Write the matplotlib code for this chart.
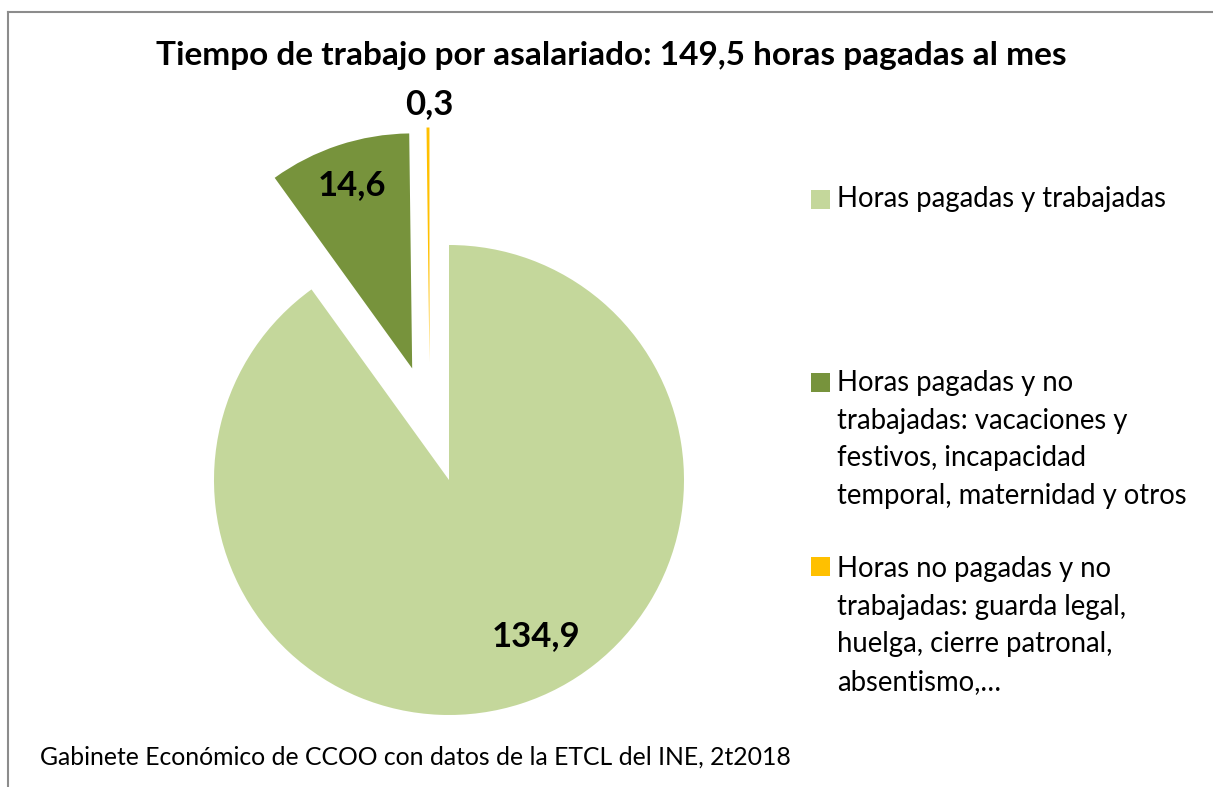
import numpy as np
import matplotlib
matplotlib.use("Agg")
import matplotlib.pyplot as plt
from matplotlib.patches import Rectangle

title = "Tiempo de trabajo por asalariado: 149,5 horas pagadas al mes"
labels = ["Horas pagadas y trabajadas",
          "Horas pagadas y no\ntrabajadas: vacaciones y\nfestivos, incapacidad\ntemporal, maternidad y otros",
          "Horas no pagadas y no\ntrabajadas: guarda legal,\nhuelga, cierre patronal,\nabsentismo,…"]
values = [134.9, 14.6, 0.3]
value_text = ["134,9", "14,6", "0,3"]
colors = ["#C4D79B", "#77933C", "#FFC000"]
source = "Gabinete Económico de CCOO con datos de la ETCL del INE, 2t2018"

W, H = 1213, 787
fig = plt.figure(figsize=(W / 100, H / 100), dpi=100)
FONT = "Lato"

# frame lines
fig.add_artist(plt.Line2D([8 / W, 8 / W], [0, 1 - 12 / H], color="#8c8c8c", lw=1.5))
fig.add_artist(plt.Line2D([8 / W, 1], [1 - 12 / H, 1 - 12 / H], color="#8c8c8c", lw=1.5))

# pie axes: center at pixel (449, 480), radius 235 px
R = 235.0
cx, cy = 449, 480
half = 400
ax = fig.add_axes([(cx - half) / W, (H - (cy + half)) / H, 2 * half / W, 2 * half / H])
wedges, _ = ax.pie(values, colors=colors, startangle=90, counterclock=False,
                   explode=[0, 0.5, 0.5], radius=1.0,
                   wedgeprops=dict(linewidth=0))
# Excel places the tiny slice slightly left
c = wedges[2].center
wedges[2].set_center((c[0] - 0.08, c[1]))
lim = half / R
ax.set_xlim(-lim, lim)
ax.set_ylim(-lim, lim)
ax.axis("off")

# data labels
lab_r = [0.76, 0.82, 1.10]
lab_ang = [-61, None, 90]
for i, w in enumerate(wedges):
    mid = (w.theta1 + w.theta2) / 2
    ang = lab_ang[i] if lab_ang[i] is not None else mid
    x0, y0 = w.center
    ax.text(x0 + lab_r[i] * np.cos(np.radians(ang)), y0 + lab_r[i] * np.sin(np.radians(ang)),
            value_text[i], ha="center", va="center", fontsize=25, fontweight="bold",
            family=FONT, color="black")

# title
fig.text(611 / W, 1 - 55 / H, title, ha="center", va="center", fontsize=24,
         fontweight="bold", family=FONT)

# legend
sq = 19
tops = [190, 373, 557]
line_c = [198, 382, 568]
for i, lab in enumerate(labels):
    fig.add_artist(Rectangle((811 / W, 1 - (tops[i] + sq) / H), sq / W, sq / H,
                             transform=fig.transFigure, color=colors[i], lw=0))
    fig.text(837 / W, 1 - (line_c[i] - 12) / H, lab, ha="left", va="top", fontsize=19.8,
             family=FONT, linespacing=1.55)

fig.text(40 / W, 1 - 757 / H, source, ha="left", va="center", fontsize=17.8, family=FONT)

fig.savefig("out.png", dpi=100)
